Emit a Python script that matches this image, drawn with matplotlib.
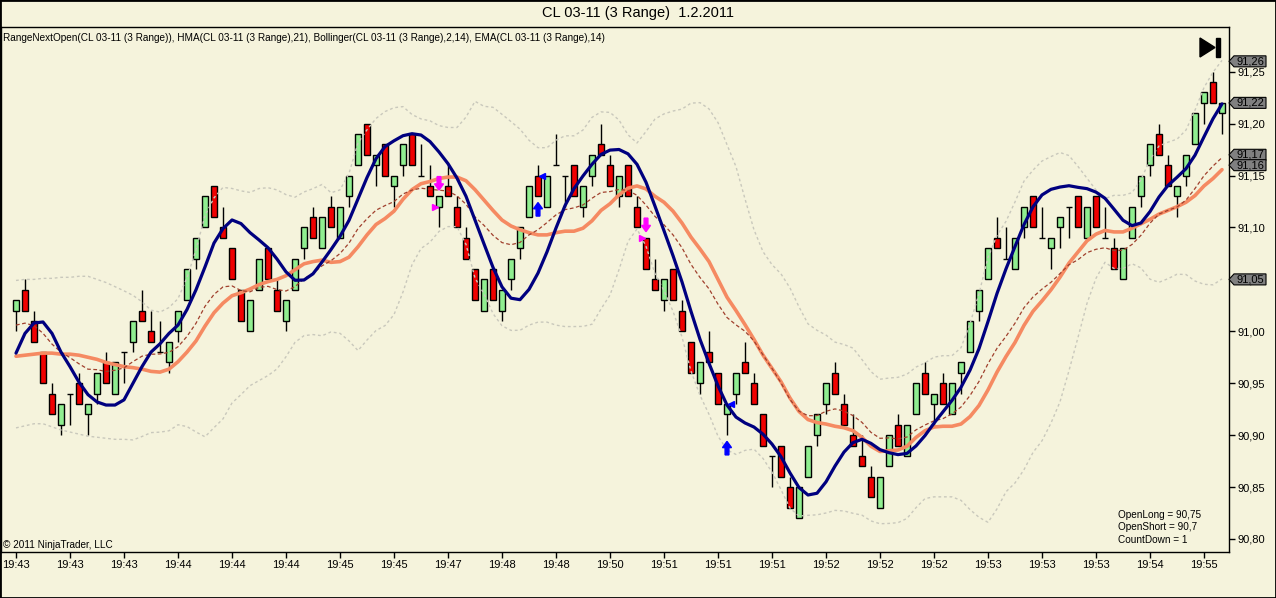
import numpy as np
import pandas as pd
import matplotlib
matplotlib.use('Agg')
import matplotlib.pyplot as plt
from matplotlib.patches import Polygon, Rectangle, FancyArrow
from matplotlib.transforms import blended_transform_factory

plt.rcParams['font.family'] = ['Liberation Sans', 'DejaVu Sans']

# range bars (3 ticks)
opens = [91.02, 91.04, 91.01, 90.98, 90.94, 90.91, 90.94, 90.95, 90.92, 90.94,
         90.97, 90.94, 90.98, 90.99, 91.02, 91.00, 90.98, 90.97, 91.00, 91.03,
         91.07, 91.10, 91.14, 91.10, 91.08, 91.04, 91.00, 91.04, 91.08, 91.04,
         91.01, 91.04, 91.08, 91.11, 91.08, 91.12, 91.09, 91.13, 91.16, 91.20,
         91.16, 91.18, 91.14, 91.16, 91.19, 91.15, 91.14, 91.12, 91.14, 91.12,
         91.09, 91.06, 91.02, 91.06, 91.02, 91.05, 91.08, 91.11, 91.15, 91.12,
         91.16, 91.15, 91.16, 91.12, 91.15, 91.18, 91.16, 91.13, 91.16, 91.12,
         91.09, 91.05, 91.03, 91.06, 91.02, 90.99, 90.95, 90.98, 90.96, 90.92,
         90.94, 90.97, 90.95, 90.92, 90.88, 90.89, 90.85, 90.82, 90.86, 90.90,
         90.93, 90.96, 90.93, 90.90, 90.88, 90.86, 90.83, 90.87, 90.91, 90.88,
         90.92, 90.96, 90.93, 90.95, 90.92, 90.96, 90.98, 91.02, 91.05, 91.09,
         91.07, 91.06, 91.10, 91.13, 91.09, 91.08, 91.10, 91.12, 91.13, 91.09,
         91.13, 91.09, 91.08, 91.05, 91.09, 91.13, 91.16, 91.19, 91.16, 91.13,
         91.15, 91.18, 91.22, 91.24, 91.21]
highs = [91.03, 91.05, 91.02, 90.98, 90.95, 90.93, 90.94, 90.96, 90.93, 90.96,
         90.98, 90.97, 90.98, 91.01, 91.04, 91.02, 91.01, 90.99, 91.02, 91.06,
         91.09, 91.13, 91.14, 91.12, 91.08, 91.04, 91.03, 91.07, 91.08, 91.05,
         91.03, 91.07, 91.10, 91.12, 91.11, 91.13, 91.12, 91.15, 91.19, 91.20,
         91.17, 91.18, 91.15, 91.18, 91.19, 91.18, 91.16, 91.13, 91.16, 91.13,
         91.10, 91.06, 91.05, 91.06, 91.04, 91.07, 91.10, 91.14, 91.16, 91.15,
         91.19, 91.15, 91.16, 91.14, 91.17, 91.20, 91.17, 91.15, 91.16, 91.13,
         91.09, 91.07, 91.05, 91.06, 91.03, 90.99, 90.97, 91.00, 90.96, 90.93,
         90.96, 90.99, 90.96, 90.92, 90.88, 90.89, 90.86, 90.85, 90.89, 90.92,
         90.95, 90.97, 90.94, 90.92, 90.90, 90.87, 90.86, 90.90, 90.92, 90.91,
         90.95, 90.97, 90.94, 90.96, 90.95, 90.97, 91.01, 91.04, 91.08, 91.11,
         91.10, 91.09, 91.12, 91.13, 91.12, 91.09, 91.11, 91.12, 91.13, 91.12,
         91.13, 91.12, 91.09, 91.08, 91.12, 91.15, 91.18, 91.20, 91.17, 91.14,
         91.17, 91.21, 91.23, 91.25, 91.22]
lows = [91.00, 91.02, 90.99, 90.95, 90.92, 90.90, 90.91, 90.93, 90.90, 90.93,
        90.95, 90.94, 90.95, 90.98, 91.01, 90.99, 90.98, 90.96, 90.99, 91.03,
        91.06, 91.10, 91.11, 91.09, 91.05, 91.01, 91.00, 91.04, 91.05, 91.02,
        91.00, 91.04, 91.07, 91.09, 91.08, 91.10, 91.09, 91.12, 91.16, 91.17,
        91.14, 91.15, 91.12, 91.15, 91.16, 91.15, 91.13, 91.10, 91.13, 91.10,
        91.07, 91.03, 91.02, 91.03, 91.01, 91.04, 91.07, 91.11, 91.13, 91.12,
        91.16, 91.12, 91.13, 91.11, 91.14, 91.17, 91.14, 91.12, 91.13, 91.10,
        91.06, 91.04, 91.02, 91.03, 91.00, 90.96, 90.94, 90.97, 90.93, 90.90,
        90.93, 90.96, 90.93, 90.89, 90.85, 90.86, 90.83, 90.82, 90.86, 90.89,
        90.92, 90.94, 90.91, 90.89, 90.87, 90.84, 90.83, 90.87, 90.89, 90.88,
        90.92, 90.94, 90.91, 90.93, 90.92, 90.94, 90.98, 91.01, 91.05, 91.08,
        91.07, 91.06, 91.09, 91.10, 91.09, 91.06, 91.08, 91.09, 91.10, 91.09,
        91.10, 91.09, 91.06, 91.05, 91.09, 91.12, 91.15, 91.17, 91.14, 91.11,
        91.14, 91.18, 91.20, 91.22, 91.19]
closes = [91.03, 91.02, 90.99, 90.95, 90.92, 90.93, 90.94, 90.93, 90.93, 90.96,
          90.95, 90.97, 90.98, 91.01, 91.01, 90.99, 90.98, 90.99, 91.02, 91.06,
          91.09, 91.13, 91.11, 91.09, 91.05, 91.01, 91.03, 91.07, 91.05, 91.02,
          91.03, 91.07, 91.10, 91.09, 91.11, 91.10, 91.12, 91.15, 91.19, 91.17,
          91.17, 91.15, 91.15, 91.18, 91.16, 91.15, 91.13, 91.13, 91.13, 91.10,
          91.07, 91.03, 91.05, 91.03, 91.04, 91.07, 91.10, 91.14, 91.13, 91.15,
          91.16, 91.15, 91.13, 91.14, 91.17, 91.17, 91.14, 91.15, 91.13, 91.10,
          91.06, 91.04, 91.05, 91.03, 91.00, 90.96, 90.97, 90.97, 90.93, 90.93,
          90.96, 90.96, 90.93, 90.89, 90.88, 90.86, 90.83, 90.85, 90.89, 90.92,
          90.95, 90.94, 90.91, 90.89, 90.87, 90.84, 90.86, 90.90, 90.89, 90.91,
          90.95, 90.94, 90.94, 90.93, 90.95, 90.97, 91.01, 91.04, 91.08, 91.08,
          91.07, 91.09, 91.12, 91.10, 91.09, 91.09, 91.11, 91.12, 91.10, 91.12,
          91.10, 91.09, 91.06, 91.08, 91.12, 91.15, 91.18, 91.17, 91.14, 91.14,
          91.17, 91.21, 91.23, 91.22, 91.22]

xtick_labels = ['19:43', '19:43', '19:43', '19:44', '19:44', '19:44', '19:45', '19:45',
                '19:47', '19:48', '19:48', '19:50', '19:51', '19:51', '19:51', '19:52',
                '19:52', '19:52', '19:53', '19:53', '19:53', '19:54', '19:55']

# indicator values on the first bars (history before the visible window)
hma_head = [90.979, 90.998, 91.008, 91.009, 90.998, 90.980, 90.966, 90.951, 90.939,
            90.932, 90.929, 90.929, 90.934, 90.950, 90.966, 90.980, 90.988, 90.998,
            91.006, 91.021, 91.040, 91.062, 91.085]
mid_head = [90.976, 90.977, 90.978, 90.979, 90.979, 90.978, 90.978, 90.977, 90.975,
            90.973, 90.970, 90.968, 90.966]
upper_head = [91.049, 91.050, 91.050, 91.051, 91.051, 91.052, 91.052, 91.053, 91.053,
              91.050, 91.047, 91.043, 91.039]
lower_head = [90.907, 90.909, 90.911, 90.911, 90.908, 90.905, 90.903, 90.901, 90.899,
              90.898, 90.897, 90.896, 90.896]
ema_start = 91.006

# trade signals
long_bars = [58, 79]
long_marks = [91.15, 90.93]
short_bars = [47, 70]
short_marks = [91.12, 91.09]

# last-value price markers on the right axis
marker_values = [91.26, 91.22, 91.17, 91.16, 91.05]

info_lines = ['OpenLong = 90,75', 'OpenShort = 90,7', 'CountDown = 1']


def wma(values, n):
    out = np.empty(len(values))
    for i in range(len(values)):
        w = values[max(0, i - n + 1):i + 1]
        k = np.arange(1, len(w) + 1)
        out[i] = (w * k).sum() / k.sum()
    return out


o = np.array(opens)
h = np.array(highs)
l = np.array(lows)
c = np.array(closes)
x = np.arange(len(c))

hma = wma(2 * wma(c, 10) - wma(c, 21), 4)
hma[:len(hma_head)] = hma_head

s = pd.Series(c)
mid = s.rolling(14).mean().to_numpy()
sd = s.rolling(14).std(ddof=0).to_numpy()
upper = mid + 2 * sd
lower = mid - 2 * sd
n0 = len(mid_head)
mid[:n0] = mid_head
upper[:n0] = upper_head
lower[:n0] = lower_head

ema = np.empty(len(c))
ema[0] = ema_start
k = 2 / 15
for i in range(1, len(c)):
    ema[i] = ema[i - 1] + k * (c[i] - ema[i - 1])

bg = '#F5F3DC'
W, H = 1276, 598
fig = plt.figure(figsize=(W / 100, H / 100), dpi=100, facecolor=bg)
ax = fig.add_axes([1 / W, 46 / H, 1228 / W, 525 / H], facecolor=bg)

# bands / averages
ax.plot(x, upper, color='#C9C8BC', lw=1, ls=(0, (2, 2)), zorder=4)
ax.plot(x, lower, color='#C9C8BC', lw=1, ls=(0, (2, 2)), zorder=4)

# candles
up = c > o
dn = c < o
eq = c == o
ax.vlines(x, l, h, color='black', lw=1, zorder=2)
ax.bar(x[up], (c - o)[up], bottom=o[up], width=0.72, color='#90EE90',
       edgecolor='black', lw=1, zorder=3)
ax.bar(x[dn], (o - c)[dn], bottom=c[dn], width=0.72, color='#F00000',
       edgecolor='black', lw=1, zorder=3)
ax.hlines(c[eq], x[eq] - 0.36, x[eq] + 0.36, color='black', lw=1, zorder=3)

ax.plot(x, mid, color='#F58A62', lw=2.6, zorder=5, solid_capstyle='round')
ax.plot(x, ema, color='#A0402D', lw=0.9, ls=(0, (3, 2)), zorder=6)
ax.plot(x, hma, color='#00007F', lw=2.3, zorder=7, solid_capstyle='round')

# signals
for b, m in zip(long_bars, long_marks):
    tip = l[b] - 0.006
    ax.add_patch(FancyArrow(b, tip - 0.013, 0, 0.013, width=0.42, head_width=1.0,
                            head_length=0.006, length_includes_head=True,
                            color='#0000FF', zorder=8))
    ax.plot(b + 0.45, m, marker='<', ms=5, color='#0000FF', mec='#0000FF', zorder=8)
for b, m in zip(short_bars, short_marks):
    tip = h[b] + 0.006
    ax.add_patch(FancyArrow(b, tip + 0.013, 0, -0.013, width=0.42, head_width=1.0,
                            head_length=0.006, length_includes_head=True,
                            color='#FF00FF', zorder=8))
    ax.plot(b - 0.45, m, marker='>', ms=5, color='#FF00FF', mec='#FF00FF', zorder=8)

ax.set_xlim((1 - 16) / 9, (1229 - 16) / 9)
ax.set_ylim(90.80 - 13 / 1038.4, 90.80 + 512 / 1038.4)

ax.set_xticks(np.arange(0, len(xtick_labels) * 6, 6))
ax.set_xticklabels(xtick_labels)
yt = np.arange(90.80, 91.26, 0.05)
ax.set_yticks(yt)
ax.set_yticklabels([f'{v:.2f}'.replace('.', ',') for v in yt])
ax.yaxis.tick_right()
ax.tick_params(axis='both', direction='out', length=4, width=1, labelsize=8,
               pad=2, colors='black')
for sp in ax.spines.values():
    sp.set_linewidth(1)
    sp.set_color('black')

# right-axis value markers
tr = blended_transform_factory(ax.transAxes, ax.transData)
fx = lambda px: (px - 1) / 1228
hh = 5.5 / 1038.4
for v in marker_values:
    pts = [(fx(1229), v), (fx(1234), v + hh), (fx(1266), v + hh),
           (fx(1266), v - hh), (fx(1234), v - hh)]
    ax.add_patch(Polygon(pts, closed=True, transform=tr, facecolor='#808080',
                         edgecolor='black', lw=0.8, clip_on=False, zorder=10))
    ax.text(fx(1250), v, f'{v:.2f}'.replace('.', ','), transform=tr, fontsize=8,
            ha='center', va='center', color='black', clip_on=False, zorder=11)

# texts
fig.text(638 / W, 1 - 13 / H, 'CL 03-11 (3 Range)  1.2.2011', ha='center', va='center',
         fontsize=10.5)
fig.text(3 / W, 1 - 38 / H,
         'RangeNextOpen(CL 03-11 (3 Range)), HMA(CL 03-11 (3 Range),21), '
         'Bollinger(CL 03-11 (3 Range),2,14), EMA(CL 03-11 (3 Range),14)',
         ha='left', va='center', fontsize=7.2)
fig.text(3 / W, 1 - 545 / H, '\u00a9 2011 NinjaTrader, LLC', ha='left', va='center',
         fontsize=7.2)
for j, t in enumerate(info_lines):
    fig.text(1118 / W, 1 - (515 + 12.5 * j) / H, t, ha='left', va='center', fontsize=7.2)

# scroll-to-end button
fig.add_artist(Polygon([(1200 / W, 1 - 38 / H), (1200 / W, 1 - 57 / H), (1215 / W, 1 - 47.5 / H)],
                       closed=True, transform=fig.transFigure, color='black'))
fig.add_artist(Rectangle((1216 / W, 1 - 57 / H), 3.5 / W, 19 / H,
                         transform=fig.transFigure, color='black'))
fig.add_artist(Rectangle((0, 0), 1, 1, transform=fig.transFigure, fill=False,
                         edgecolor='black', lw=2))

fig.savefig('out.png', dpi=100, facecolor=bg)
